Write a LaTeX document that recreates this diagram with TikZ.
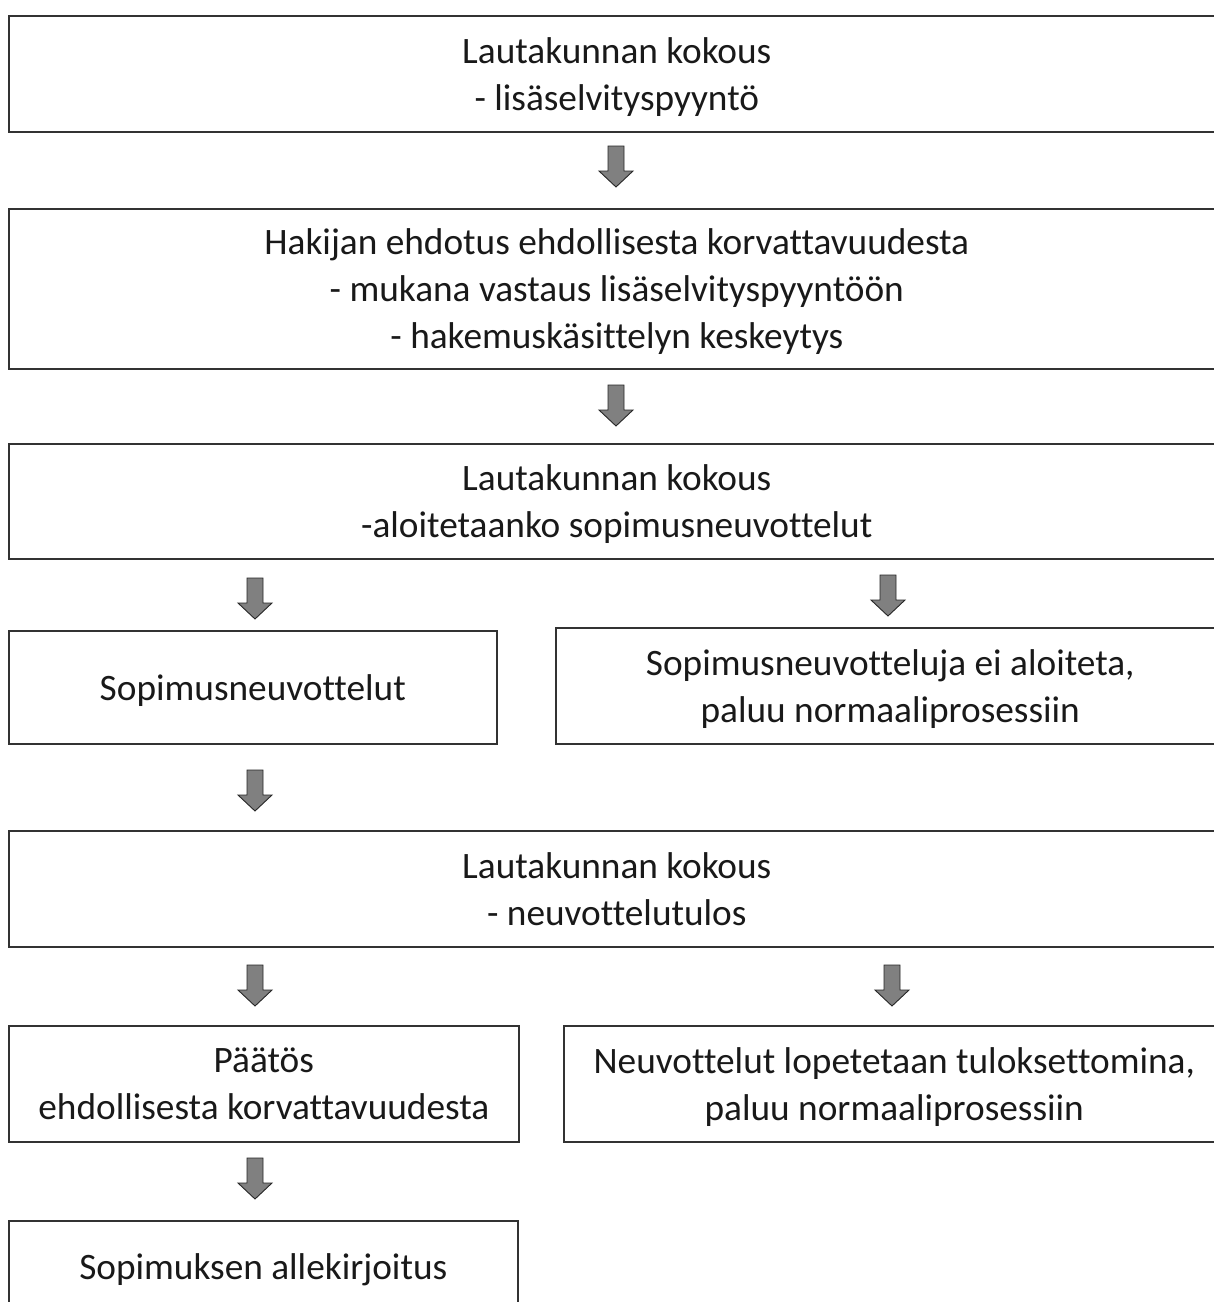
\documentclass[tikz,border=0pt]{standalone}
\usepackage{fontspec}
\setmainfont[Ligatures={NoCommon}]{Carlito}
\definecolor{arrowgray}{RGB}{128,128,128}
\definecolor{boxline}{RGB}{50,50,50}
\tikzset{
  box/.style={draw=boxline, line width=1.6pt, rectangle, anchor=north west, align=center, inner sep=0pt,
    font=\fontsize{37.3}{47}\selectfont, text=black!90, text depth=0pt},
  downarr/.pic={\draw[fill=arrowgray, draw=black!85, line width=0.9pt, line join=miter]
    (-8,0) -- (8,0) -- (8,-25) -- (17,-25) -- (0,-41) -- (-17,-25) -- (-8,-25) -- cycle;}
}
\begin{document}
\begin{tikzpicture}[x=1pt,y=1pt]
\useasboundingbox (0,0) rectangle (1214,-1302);
\clip (0,0) rectangle (1214,-1302);
\fill[white] (0,0) rectangle (1214,-1302);
\node[box, minimum width=1216pt, minimum height=116pt] (b1) at (8,-15) {Lautakunnan kokous\\- lisäselvityspyyntö};
\node[box, minimum width=1216pt, minimum height=160pt] (b2) at (8,-208) {Hakijan ehdotus ehdollisesta korvattavuudesta\\- mukana vastaus lisäselvityspyyntöön\\- hakemuskäsittelyn keskeytys};
\node[box, minimum width=1216pt, minimum height=115pt] (b3) at (8,-443) {Lautakunnan kokous\\-aloitetaanko sopimusneuvottelut};
\node[box, minimum width=488pt, minimum height=113pt] (b4l) at (8,-630) {Sopimusneuvottelut};
\node[box, minimum width=669pt, minimum height=116pt] (b4r) at (555,-627) {Sopimusneuvotteluja ei aloiteta,\\paluu normaaliprosessiin};
\node[box, minimum width=1216pt, minimum height=116pt] (b5) at (8,-830) {Lautakunnan kokous\\- neuvottelutulos};
\node[box, minimum width=510pt, minimum height=116pt] (b6l) at (8,-1025) {Päätös\\ehdollisesta korvattavuudesta};
\node[box, minimum width=661pt, minimum height=116pt] (b6r) at (563,-1025) {Neuvottelut lopetetaan tuloksettomina,\\paluu normaaliprosessiin};
\node[box, minimum width=509pt, minimum height=92pt] (b7) at (8,-1220) {Sopimuksen allekirjoitus};
\pic at (616,-146) {downarr};
\pic at (616,-385) {downarr};
\pic at (255,-578) {downarr};
\pic at (888,-575) {downarr};
\pic at (255,-770) {downarr};
\pic at (255,-965) {downarr};
\pic at (892,-965) {downarr};
\pic at (255,-1158) {downarr};
\end{tikzpicture}
\end{document}
